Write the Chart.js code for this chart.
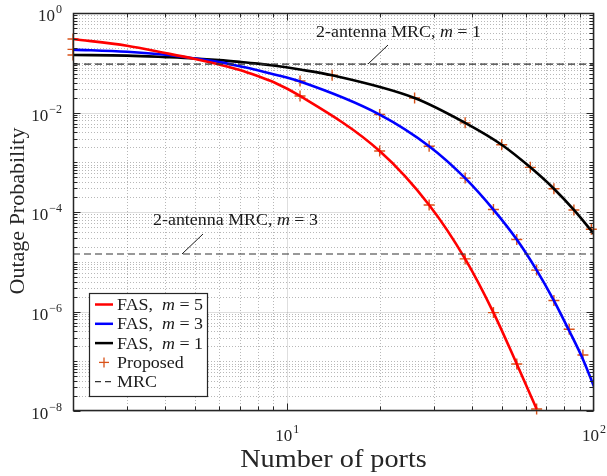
<!DOCTYPE html>
<html>
<head>
<meta charset="utf-8">
<script src="https://cdn.jsdelivr.net/npm/chart.js@4.4.1/dist/chart.umd.min.js"></script>
<style>
  html, body { margin: 0; padding: 0; background: #fff; }
  #wrap { width: 607px; height: 476px; }
</style>
</head>
<body>
<div id="wrap"><canvas id="outageChart" width="607" height="476"></canvas></div>
<script>
// Curvas FAS
const portsM5 = [2, 3, 4, 5, 6, 7, 8, 9, 11, 20, 29, 38, 47, 56, 65];
const fasM5 = [0.30, 0.22, 0.157, 0.119, 0.092, 0.0715, 0.054, 0.041, 0.0215, 1.68e-3, 1.38e-4, 1.14e-5, 9.5e-7, 8.8e-8, 1.1e-8];

const portsM3 = [2, 3, 4, 5, 6, 7, 8, 9, 11, 20, 29, 38, 47, 56, 65, 74, 83, 92, 100];
const fasM3 = [0.184, 0.166, 0.145, 0.122, 0.103, 0.085, 0.071, 0.059, 0.042, 9.1e-3, 2.1e-3, 4.8e-4, 1.12e-4, 2.8e-5, 6.8e-6, 1.66e-6, 4.1e-7, 1.1e-7, 3.1e-8];

const portsM1 = [2, 3, 4, 5, 6, 7, 8, 9, 11, 14, 26, 38, 50, 62, 74, 86, 98, 100];
const fasM1 = [0.143, 0.139, 0.130, 0.122, 0.113, 0.104, 0.096, 0.088, 0.073, 0.056, 0.0196, 6.2e-3, 2.25e-3, 7.9e-4, 2.94e-4, 1.1e-4, 4.2e-5, 3.6e-5];

// Marcadores "Proposed"
const propPortsM5 = [2, 11, 20, 29, 38, 47, 56, 65];
const propM5 = [0.30, 0.0215, 1.68e-3, 1.38e-4, 1.14e-5, 9.5e-7, 8.8e-8, 1.1e-8];
const propPortsM3 = [2, 11, 20, 29, 38, 47, 56, 65, 74, 83, 92];
const propM3 = [0.186, 0.043, 9.1e-3, 2.1e-3, 4.8e-4, 1.12e-4, 2.8e-5, 6.8e-6, 1.66e-6, 4.4e-7, 1.34e-7];
const propPortsM1 = [2, 14, 26, 38, 50, 62, 74, 86, 98];
const propM1 = [0.143, 0.056, 0.0196, 6.2e-3, 2.25e-3, 7.9e-4, 2.94e-4, 1.1e-4, 4.5e-5];

// MRC de 2 antenas (linhas horizontais)
const mrcPorts = [2, 100];
const mrcM1 = 0.094;
const mrcM3 = 1.43e-5;

// Ticks
const xTickValues = [10, 100];
const xTickExps = ['1', '2'];
const yTickValues = [1, 1e-2, 1e-4, 1e-6, 1e-8];
const yTickExps = ['0', '\u22122', '\u22124', '\u22126', '\u22128'];

const serif = '"Liberation Serif", "DejaVu Serif", serif';
const propColor = '#D95319';
const stretch = 1.12; // a fonte do original é mais larga

function pts(xs, ys) { return xs.map((x, i) => ({ x: x, y: ys[i] })); }

// texto esticado na horizontal
function wideText(ctx, txt, x, y, sx) {
    ctx.save();
    ctx.translate(x, y);
    ctx.scale(sx, 1);
    ctx.fillText(txt, 0, 0);
    ctx.restore();
    return ctx.measureText(txt).width * sx;
}

// desenha "10" com expoente
function drawPower(ctx, exp, x, y, align) {
    ctx.font = '17px ' + serif;
    const wBase = ctx.measureText('10').width;
    ctx.font = '12px ' + serif;
    const wExp = ctx.measureText(exp).width;
    const total = wBase + 1 + wExp;
    const left = align === 'right' ? x - total : x - total / 2;
    ctx.textAlign = 'left';
    ctx.textBaseline = 'alphabetic';
    ctx.font = '17px ' + serif;
    ctx.fillText('10', left, y);
    ctx.font = '12px ' + serif;
    ctx.fillText(exp, left + wBase + 1, y - 8);
}

// texto com "m" em itálico: partes [texto, italico?]
function drawParts(ctx, parts, x, y, size) {
    let cx = x;
    ctx.textAlign = 'left';
    ctx.textBaseline = 'alphabetic';
    parts.forEach(p => {
        ctx.font = (p[1] ? 'italic ' : '') + size + 'px ' + serif;
        cx += wideText(ctx, p[0], cx, y, stretch);
    });
    return cx - x;
}

function seg(ctx, x1, y1, x2, y2) {
    ctx.beginPath(); ctx.moveTo(x1, y1); ctx.lineTo(x2, y2); ctx.stroke();
}

const decoPlugin = {
    id: 'deco',
    beforeDatasetsDraw(chart) {
        const { ctx, chartArea: a, scales: { x, y } } = chart;
        ctx.save();
        ctx.lineWidth = 1;
        // grade menor pontilhada
        ctx.strokeStyle = 'rgba(0,0,0,0.28)';
        ctx.setLineDash([1, 2]);
        for (let d = 0; d <= 1; d++) {
            for (let m = 2; m <= 9; m++) {
                const v = m * Math.pow(10, d);
                if (v <= 2 || v >= 100) continue;
                const px = Math.round(x.getPixelForValue(v)) + 0.5;
                seg(ctx, px, a.top, px, a.bottom);
            }
        }
        for (let e = -8; e < 0; e++) {
            for (let m = 1; m <= 9; m++) {
                const v = m * Math.pow(10, e);
                if (m === 1 && e % 2 === 0) continue;
                const py = Math.round(y.getPixelForValue(v)) + 0.5;
                seg(ctx, a.left, py, a.right, py);
            }
        }
        // grade maior
        ctx.setLineDash([]);
        ctx.strokeStyle = 'rgba(0,0,0,0.13)';
        xTickValues.forEach(v => {
            const px = Math.round(x.getPixelForValue(v)) + 0.5;
            seg(ctx, px, a.top, px, a.bottom);
        });
        yTickValues.forEach(v => {
            const py = Math.round(y.getPixelForValue(v)) + 0.5;
            seg(ctx, a.left, py, a.right, py);
        });
        ctx.restore();
    },
    afterDraw(chart) {
        const { ctx, chartArea: a, scales: { x, y } } = chart;
        ctx.save();
        const L = Math.round(a.left) + 0.5, R = Math.round(a.right) - 0.5;
        const T = Math.round(a.top) + 0.5, B = Math.round(a.bottom) - 0.5;

        // caixa e ticks para dentro
        ctx.strokeStyle = '#262626';
        ctx.lineWidth = 1;
        for (let d = 0; d <= 1; d++) {
            for (let m = 1; m <= 9; m++) {
                const v = m * Math.pow(10, d);
                if (v <= 2 || v >= 100) continue;
                const len = m === 1 ? 7 : 4;
                const px = Math.round(x.getPixelForValue(v)) + 0.5;
                seg(ctx, px, B, px, B - len);
                seg(ctx, px, T, px, T + len);
            }
        }
        for (let e = -8; e <= 0; e++) {
            for (let m = 1; m <= 9; m++) {
                const v = m * Math.pow(10, e);
                if (v > 1) continue;
                const len = (m === 1 && e % 2 === 0) ? 7 : 4;
                const py = Math.round(y.getPixelForValue(v)) + 0.5;
                seg(ctx, L, py, L + len, py);
                seg(ctx, R, py, R - len, py);
            }
        }
        ctx.lineWidth = 1.5;
        ctx.strokeRect(L, T, R - L, B - T);

        // rótulos dos ticks
        ctx.fillStyle = '#262626';
        yTickValues.forEach((v, i) => {
            drawPower(ctx, yTickExps[i], 62, y.getPixelForValue(v) + 8, 'right');
        });
        xTickValues.forEach((v, i) => {
            drawPower(ctx, xTickExps[i], x.getPixelForValue(v), 441, 'center');
        });

        // títulos dos eixos
        ctx.fillStyle = '#262626';
        ctx.textAlign = 'center';
        ctx.textBaseline = 'alphabetic';
        ctx.font = '25px ' + serif;
        wideText(ctx, 'Number of ports', (a.left + a.right) / 2, 467, 1.13);
        ctx.save();
        ctx.translate(24, 211);
        ctx.rotate(-Math.PI / 2);
        ctx.font = '22px ' + serif;
        ctx.fillText('Outage Probability', 0, 0);
        ctx.restore();

        // anotações MRC
        ctx.fillStyle = '#1a1a1a';
        ctx.strokeStyle = '#1a1a1a';
        ctx.lineWidth = 1;
        const ann1 = [['2-antenna MRC, ', false], ['m', true], [' = 1', false]];
        const ann3 = [['2-antenna MRC, ', false], ['m', true], [' = 3', false]];
        drawParts(ctx, ann1, 316, 37, 16);
        drawParts(ctx, ann3, 153, 225, 16);
        seg(ctx, 368, 64, 388, 45);
        seg(ctx, 182, 254, 203, 234);

        // legenda
        const lx = 89.5, ly = 293.5, lw = 118, lh = 103;
        ctx.fillStyle = '#fff';
        ctx.fillRect(lx, ly, lw, lh);
        ctx.strokeStyle = '#262626';
        ctx.lineWidth = 1.2;
        ctx.strokeRect(lx, ly, lw, lh);
        const rows = [
            { kind: 'line', color: '#ff0000', parts: [['FAS,  ', false], ['m', true], [' = 5', false]] },
            { kind: 'line', color: '#0000ff', parts: [['FAS,  ', false], ['m', true], [' = 3', false]] },
            { kind: 'line', color: '#000000', parts: [['FAS,  ', false], ['m', true], [' = 1', false]] },
            { kind: 'cross', color: propColor, parts: [['Proposed', false]] },
            { kind: 'dash', color: '#333', parts: [['MRC', false]] }
        ];
        rows.forEach((r, i) => {
            const cy = 304.5 + i * 19.3;
            ctx.strokeStyle = r.color;
            if (r.kind === 'line') {
                ctx.lineWidth = 2.5;
                seg(ctx, 95, cy, 113, cy);
            } else if (r.kind === 'cross') {
                ctx.lineWidth = 1.3;
                seg(ctx, 99, cy, 109, cy);
                seg(ctx, 104, cy - 5, 104, cy + 5);
            } else {
                ctx.lineWidth = 1.2;
                ctx.setLineDash([6, 4]);
                seg(ctx, 95, cy, 113, cy);
                ctx.setLineDash([]);
            }
            ctx.fillStyle = '#1a1a1a';
            drawParts(ctx, r.parts, 117, cy + 5.5, 16);
        });
        ctx.restore();
    }
};

const lineOpts = { showLine: true, pointRadius: 0, borderWidth: 2.6, cubicInterpolationMode: 'monotone', fill: false };
const mrcOpts = { showLine: true, pointRadius: 0, borderColor: '#333', borderWidth: 1.2, borderDash: [7, 4] };

new Chart(document.getElementById('outageChart'), {
    type: 'scatter',
    data: {
        datasets: [
            Object.assign({ label: 'MRC m=1', data: pts(mrcPorts, [mrcM1, mrcM1]) }, mrcOpts),
            Object.assign({ label: 'MRC m=3', data: pts(mrcPorts, [mrcM3, mrcM3]) }, mrcOpts),
            Object.assign({ label: 'FAS, m = 5', data: pts(portsM5, fasM5), borderColor: '#ff0000' }, lineOpts),
            Object.assign({ label: 'FAS, m = 3', data: pts(portsM3, fasM3), borderColor: '#0000ff' }, lineOpts),
            Object.assign({ label: 'FAS, m = 1', data: pts(portsM1, fasM1), borderColor: '#000000' }, lineOpts),
            {
                label: 'Proposed',
                data: pts(propPortsM5, propM5).concat(pts(propPortsM3, propM3), pts(propPortsM1, propM1)),
                pointStyle: 'cross', pointRadius: 5.5, pointBorderWidth: 1.4,
                borderColor: propColor, backgroundColor: propColor, clip: false
            }
        ]
    },
    options: {
        responsive: false,
        animation: false,
        layout: { padding: { left: 73, right: 13, top: 13, bottom: 65 } },
        plugins: { legend: { display: false }, tooltip: { enabled: false } },
        scales: {
            x: { type: 'logarithmic', min: 2, max: 100, display: false },
            y: { type: 'logarithmic', min: 1e-8, max: 1, display: false }
        }
    },
    plugins: [decoPlugin]
});
</script>
</body>
</html>
